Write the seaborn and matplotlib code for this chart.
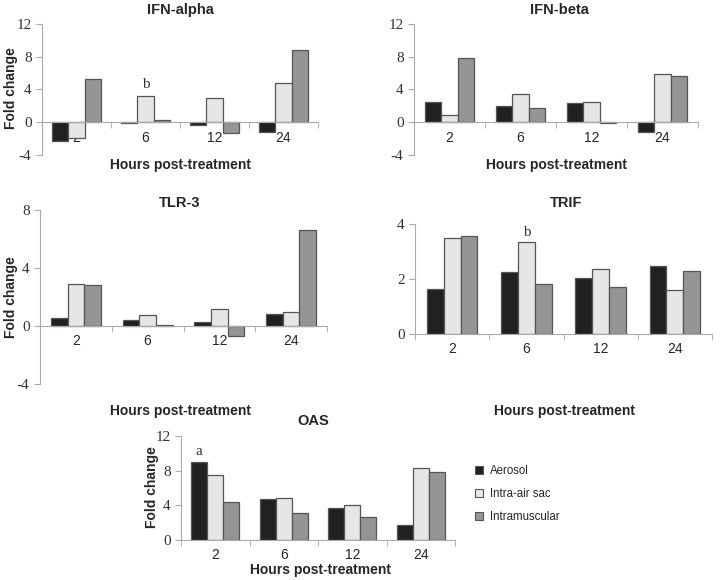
import matplotlib
matplotlib.use("Agg")
import matplotlib.pyplot as plt
import seaborn as sns
import pandas as pd
from matplotlib.patches import Patch

hours = ["2", "6", "12", "24"]
routes = ["Aerosol", "Intra-air sac", "Intramuscular"]

ifn_alpha_aerosol = [-2.3, -0.05, -0.3, -1.2]
ifn_alpha_intra = [-1.9, 3.2, 3.0, 4.8]
ifn_alpha_im = [5.3, 0.3, -1.3, 8.8]

ifn_beta_aerosol = [2.5, 2.0, 2.4, -1.2]
ifn_beta_intra = [0.9, 3.4, 2.5, 5.9]
ifn_beta_im = [7.9, 1.8, -0.05, 5.6]

tlr3_aerosol = [0.55, 0.4, 0.3, 0.85]
tlr3_intra = [2.9, 0.75, 1.15, 0.95]
tlr3_im = [2.85, 0.05, -0.7, 6.6]

trif_aerosol = [1.65, 2.25, 2.05, 2.48]
trif_intra = [3.5, 3.35, 2.38, 1.6]
trif_im = [3.55, 1.82, 1.7, 2.28]

oas_aerosol = [9.0, 4.7, 3.7, 1.7]
oas_intra = [7.5, 4.9, 4.0, 8.3]
oas_im = [4.4, 3.1, 2.6, 7.8]

colors = ["#231f20", "#e6e6e6", "#959595"]

sns.set_style("white")
plt.rcParams['font.family'] = ['Liberation Sans', 'DejaVu Sans']

fig = plt.figure(figsize=(7.2, 5.8), dpi=100)
W, H = 720.0, 580.0

TITLE_FS = 10.5
LABEL_FS = 10


def make_df(a, b, c):
    rows = []
    for r, vals in zip(routes, (a, b, c)):
        for h, v in zip(hours, vals):
            rows.append({"hour": h, "route": r, "value": v})
    return pd.DataFrame(rows)


def panel(rect_px, data, ylim, yticks, width=0.7):
    l, r, t, b = rect_px
    ax = fig.add_axes([l / W, 1 - b / H, (r - l) / W, (b - t) / H])
    df = make_df(*data)
    sns.barplot(data=df, x="hour", y="value", hue="route", order=hours,
                hue_order=routes, palette=colors, width=width, gap=0,
                edgecolor="#555555", linewidth=0.9, legend=False, ax=ax,
                errorbar=None)
    ax.set_xlim(-0.5, 3.5)
    ax.set_ylim(*ylim)
    ax.set_yticks(yticks)
    ax.set_yticklabels([str(v) for v in yticks], family="Liberation Serif",
                       fontsize=11, color="#333333")
    ax.set_xticks(range(4))
    ax.set_xticklabels(hours, family="Liberation Serif", fontsize=11,
                       color="#333333")
    ax.set_xticks([-0.5, 0.5, 1.5, 2.5, 3.5], minor=True)
    ax.tick_params(axis="x", which="major", length=0, pad=6)
    ax.tick_params(axis="x", which="minor", length=4, color="#aaaaaa",
                   direction="out", bottom=True)
    ax.tick_params(axis="y", length=4, color="#aaaaaa", direction="out",
                   left=True)
    for s in ("top", "right"):
        ax.spines[s].set_visible(False)
    ax.spines["left"].set_color("#aaaaaa")
    ax.spines["bottom"].set_color("#aaaaaa")
    ax.spines["bottom"].set_position(("data", 0))
    ax.set_xlabel("")
    ax.set_ylabel("")
    ax.grid(False)
    return ax


def annotate(ax, hue_idx, cat_idx, label, dy):
    rect = ax.containers[hue_idx][cat_idx]
    x = rect.get_x() + rect.get_width() / 2
    y = rect.get_y() + rect.get_height()
    ax.text(x, y + dy, label, ha="center", va="bottom",
            family="Liberation Serif", fontsize=11, color="#333333")


def ftext(x, y, s, **kw):
    fig.text(x / W, 1 - y / H, s, ha="center", va="center", **kw)


# IFN-alpha
ax1 = panel((42, 318, 24, 155),
            (ifn_alpha_aerosol, ifn_alpha_intra, ifn_alpha_im),
            (-4, 12), [-4, 0, 4, 8, 12])
annotate(ax1, 1, 1, "b", 0.6)
ftext(180, 10, "IFN-alpha", fontsize=TITLE_FS, fontweight="bold")
ftext(180, 165, "Hours post-treatment", fontsize=LABEL_FS, fontweight="bold")
ftext(11, 88, "Fold change", fontsize=LABEL_FS, fontweight="bold", rotation=90)

# IFN-beta
ax2 = panel((414, 698, 24, 155),
            (ifn_beta_aerosol, ifn_beta_intra, ifn_beta_im),
            (-4, 12), [-4, 0, 4, 8, 12])
ftext(559, 10, "IFN-beta", fontsize=TITLE_FS, fontweight="bold")
ftext(557, 165, "Hours post-treatment", fontsize=LABEL_FS, fontweight="bold")

# TLR-3
ax3 = panel((40, 327, 210, 384),
            (tlr3_aerosol, tlr3_intra, tlr3_im),
            (-4, 8), [-4, 0, 4, 8])
ftext(180, 203, "TLR-3", fontsize=TITLE_FS, fontweight="bold")
ftext(180, 411, "Hours post-treatment", fontsize=LABEL_FS, fontweight="bold")
ftext(11, 297, "Fold change", fontsize=LABEL_FS, fontweight="bold", rotation=90)

# TRIF
ax4 = panel((415, 712, 224, 334),
            (trif_aerosol, trif_intra, trif_im),
            (0, 4), [0, 2, 4], width=0.68)
annotate(ax4, 1, 1, "b", 0.12)
ftext(566, 203, "TRIF", fontsize=TITLE_FS, fontweight="bold")
ftext(565, 411, "Hours post-treatment", fontsize=LABEL_FS, fontweight="bold")

# OAS
ax5 = panel((181, 455, 436, 540),
            (oas_aerosol, oas_intra, oas_im),
            (0, 12), [0, 4, 8, 12])
annotate(ax5, 0, 0, "a", 0.5)
ftext(313, 421, "OAS", fontsize=TITLE_FS, fontweight="bold")
ftext(320, 570, "Hours post-treatment", fontsize=LABEL_FS, fontweight="bold")
ftext(152, 487, "Fold change", fontsize=LABEL_FS, fontweight="bold", rotation=90)

handles = [Patch(facecolor=c, edgecolor="#555555", linewidth=0.8) for c in colors]
fig.legend(handles, routes, loc="center left",
           bbox_to_anchor=(465 / W, 1 - 494 / H), frameon=False,
           fontsize=8.3, handlelength=0.7, handleheight=0.7,
           handletextpad=0.6, labelspacing=0.95)

fig.savefig("out.png", dpi=100)
